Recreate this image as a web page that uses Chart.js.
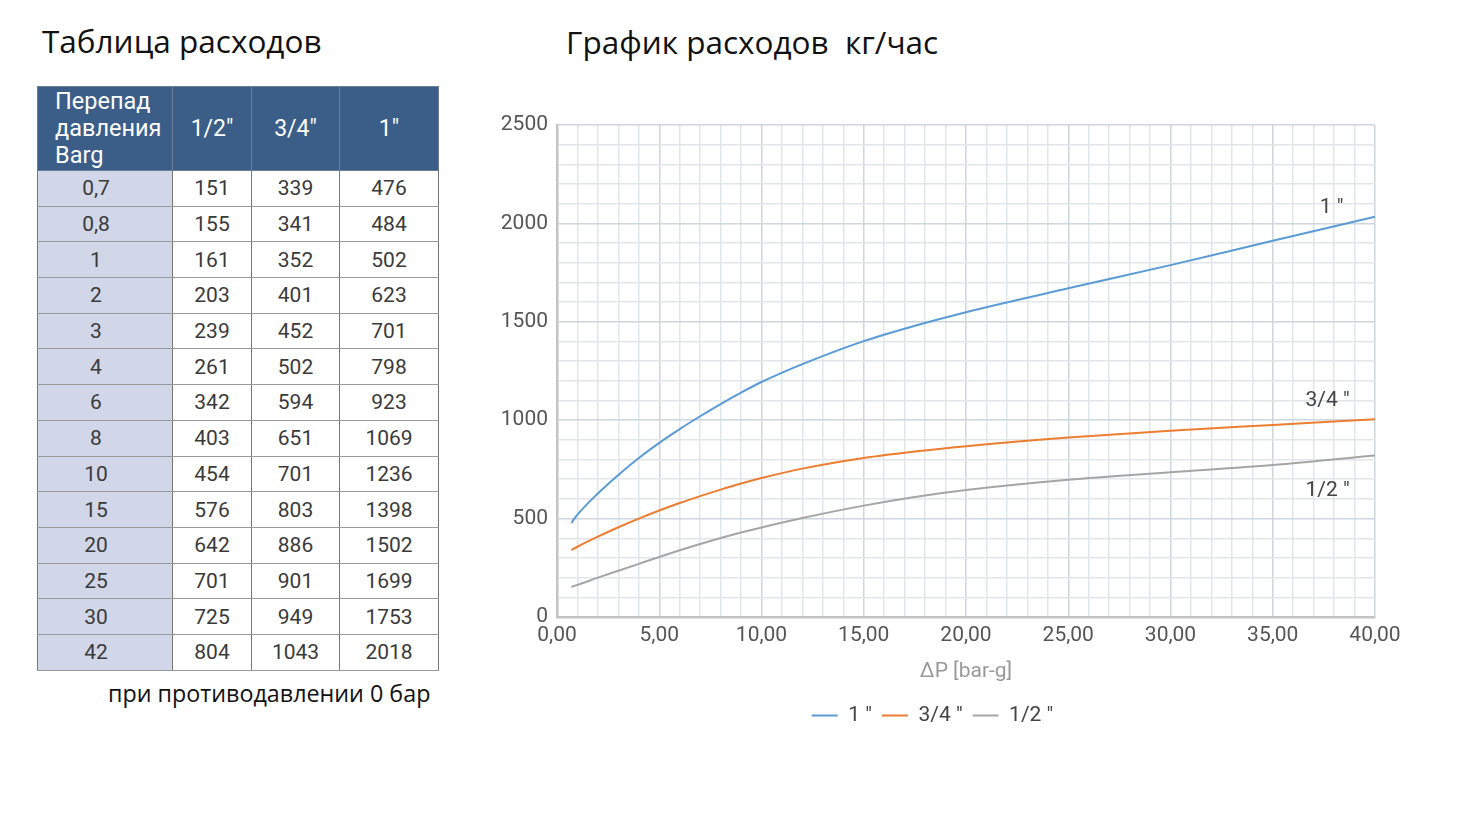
<!DOCTYPE html>
<html lang="ru">
<head>
<meta charset="utf-8">
<title>Таблица и график расходов</title>
<script src="https://cdn.jsdelivr.net/npm/chart.js@4.4.1/dist/chart.umd.min.js"></script>
<style>
  html, body { margin: 0; padding: 0; background: #fff; }
  body { width: 1480px; height: 838px; position: relative; overflow: hidden; font-family: "Open Sans", sans-serif; }
  h1 { position: absolute; margin: 0; font-weight: 400; font-size: 31.5px; color: #111; }
  #t1 { left: 42px; top: 19px; }
  #t2 { left: 566px; top: 20px; }
  table { position: absolute; left: 37px; top: 86px; border-collapse: collapse; font-family: Roboto, sans-serif; }
  th { background: #3b5e89; color: #fff; font-weight: 400; font-size: 23px; height: 83px; padding: 0; border: 1.5px solid #6b7d94; line-height: 27px; }
  th:first-child { text-align: left; padding-left: 17px; font-size: 23.5px; }
  td { height: 34.7px; padding: 0; text-align: center; font-size: 21px; color: #3a3a3a; border: 1.5px solid #777; border-top-color: #999; border-bottom-color: #999; }
  td:first-child { background: #d1d6e8; padding-right: 18px; }
  #note { position: absolute; left: 108px; top: 677px; font-size: 23.3px; color: #111; }
  #wrap { position: absolute; left: 490px; top: 100px; width: 960px; height: 636px; }
</style>
</head>
<body>
<h1 id="t1">Таблица расходов</h1>
<h1 id="t2">График расходов&nbsp; кг/час</h1>

<table id="tbl">
  <colgroup><col style="width:135px"><col style="width:79px"><col style="width:88px"><col style="width:99px"></colgroup>
  <thead><tr id="head"></tr></thead>
  <tbody id="body"></tbody>
</table>
<div id="note">при противодавлении 0 бар</div>

<div id="wrap"><canvas id="chart"></canvas></div>

<script>
// table data
const pressures = ['0,7', '0,8', '1', '2', '3', '4', '6', '8', '10', '15', '20', '25', '30', '42'];
const flowHalf  = [151, 155, 161, 203, 239, 261, 342, 403, 454, 576, 642, 701, 725, 804];
const flowThree = [339, 341, 352, 401, 452, 502, 594, 651, 701, 803, 886, 901, 949, 1043];
const flowOne   = [476, 484, 502, 623, 701, 798, 923, 1069, 1236, 1398, 1502, 1699, 1753, 2018];
const tableHead = ['Перепад<br>давления<br>Barg', '1/2"', '3/4"', '1"'];

// curve points (x = ΔP bar-g)
const curveX     = [0.7, 1, 2, 3, 4, 5, 6, 7, 8, 9, 10, 12, 15, 17.5, 20, 25, 30, 35, 40];
const curveOne   = [478, 520, 628, 722, 808, 885, 955, 1020, 1082, 1140, 1194, 1285, 1402, 1480, 1549, 1670, 1788, 1912, 2034];
const curveThree = [340, 357, 408, 456, 500, 541, 579, 614, 647, 678, 706, 754, 808, 841, 868, 912, 947, 976, 1005];
const curveHalf  = [153, 163, 200, 235, 270, 305, 339, 371, 401, 429, 455, 503, 566, 610, 645, 697, 735, 772, 821];

const seriesNames  = ['1 "', '3/4 "', '1/2 "'];
const seriesColors = ['#5b9bd5', '#ed7d31', '#a5a5a5'];

document.getElementById('head').innerHTML = tableHead.map(h => `<th>${h}</th>`).join('');
document.getElementById('body').innerHTML = pressures.map((p, i) =>
  `<tr><td>${p}</td><td>${flowHalf[i]}</td><td>${flowThree[i]}</td><td>${flowOne[i]}</td></tr>`).join('');

const toPts = ys => curveX.map((x, i) => ({ x, y: ys[i] }));
const curves = [curveOne, curveThree, curveHalf];

// labels at the right end of each curve
const endLabels = {
  id: 'endLabels',
  afterDatasetsDraw(chart) {
    const { ctx, scales: { x, y } } = chart;
    const spots = [[37.3, 2080], [36.6, 1100], [36.6, 640]];
    ctx.save();
    ctx.font = '21px Roboto';
    ctx.fillStyle = '#444';
    ctx.textBaseline = 'middle';
    spots.forEach((s, i) => ctx.fillText(seriesNames[i], x.getPixelForValue(s[0]), y.getPixelForValue(s[1])));
    ctx.restore();
  }
};

const gridCol = step => c => (Math.round(c.tick.value / step) % 5 === 0 ? '#cdd6df' : '#e1e6ea');

new Chart(document.getElementById('chart'), {
  type: 'scatter',
  data: {
    datasets: curves.map((ys, i) => ({
      label: seriesNames[i],
      data: toPts(ys),
      showLine: true,
      borderColor: seriesColors[i],
      backgroundColor: seriesColors[i],
      borderWidth: 2,
      pointRadius: 0,
      cubicInterpolationMode: 'monotone'
    }))
  },
  options: {
    responsive: true,
    maintainAspectRatio: false,
    animation: false,
    layout: { padding: { top: 25, right: 75, left: 0, bottom: 0 } },
    plugins: {
      tooltip: { enabled: false },
      legend: {
        position: 'bottom',
        labels: {
          usePointStyle: true,
          pointStyle: 'line',
          pointStyleWidth: 26,
          color: '#444',
          padding: 10,
          font: { family: 'Roboto', size: 21 }
        }
      }
    },
    scales: {
      x: {
        type: 'linear',
        min: 0, max: 40,
        afterFit: s => { s.height = 78; },
        grid: { color: gridCol(1), lineWidth: 1.5, drawTicks: false },
        border: { color: '#c4c4c4', width: 2.5 },
        ticks: {
          stepSize: 1, autoSkip: false, maxRotation: 0, padding: 6,
          color: '#555', font: { family: 'Roboto', size: 21 },
          callback: v => (v % 5 === 0 ? v.toFixed(2).replace('.', ',') : '')
        },
        title: { display: true, text: 'ΔP [bar-g]', color: '#999', font: { family: 'Roboto', size: 21 }, padding: { top: 6, bottom: 11 } }
      },
      y: {
        min: 0, max: 2500,
        afterFit: s => { s.width = 67; },
        grid: { color: gridCol(100), lineWidth: 1.5, drawTicks: false },
        border: { color: '#c4c4c4', width: 2.5 },
        ticks: {
          stepSize: 100, autoSkip: false, padding: 9,
          color: '#555', font: { family: 'Roboto', size: 21 },
          callback: v => (v % 500 === 0 ? v : '')
        }
      }
    }
  },
  plugins: [endLabels]
});
</script>
</body>
</html>
